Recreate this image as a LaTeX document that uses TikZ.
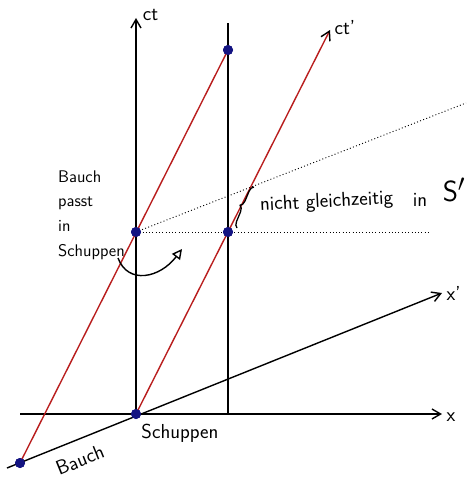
\documentclass[tikz,border=0pt]{standalone}
\usepackage{tikz}
\usetikzlibrary{positioning,arrows.meta,decorations.pathreplacing}
\definecolor{LineRed}{RGB}{185,30,30}
\definecolor{EventBlue}{RGB}{20,20,130}

\begin{document}
\begin{tikzpicture}[
    x=0.03cm, y=-0.03cm,
    every node/.style={font=\sffamily\LARGE},
    axis/.style={line width=1.2pt, -{Straight Barb[length=2.6mm, width=3mm]}},
    worldline/.style={line width=1.2pt, LineRed},
    simul/.style={dotted, line width=0.8pt},
    event/.style={circle, fill=EventBlue, inner sep=0pt, minimum size=3mm},
]
\useasboundingbox (0,0) rectangle (475,479);

\coordinate (xStart) at (20,414);
\coordinate (xEnd) at (442,414);
\coordinate (ctEnd) at (136,18);
\coordinate (wallBottom) at (228,414);
\coordinate (wallTop) at (228,23);
\coordinate (xpStart) at (7,468);
\coordinate (xpEnd) at (442,293);
\coordinate (ctpEnd) at (330,30);
\coordinate (flatEnd) at (428,232);
\coordinate (tiltEnd) at (466,103);

\node[event] (shedFront) at (136,414) {};
\node[event] (barRear) at (20,463) {};
\node[event] (barInside) at (136,232) {};
\node[event] (shedBack) at (228,232) {};
\node[event] (barTop) at (228,50) {};

\draw[axis] (xStart) -- (xEnd) node[right, yshift=-3pt] {x};
\draw[axis] (shedFront.center) -- (ctEnd) node[right, xshift=2pt, yshift=3pt] {ct};
\draw[line width=1.2pt] (wallBottom) -- (wallTop);
\draw[axis] (xpStart) -- (xpEnd) node[right] {x'};
\draw[simul] (barInside.center) -- (flatEnd);
\draw[simul] (barInside.center) -- (tiltEnd);
\draw[worldline] (barRear.center) -- (barTop.center);
\draw[worldline, -{Straight Barb[length=2.6mm, width=3mm, color=black]}] (shedFront.center) -- (ctpEnd)
    node[right, black, yshift=2pt] {ct'};

\node[event] at (shedFront) {};
\node[event] at (barRear) {};
\node[event] at (barInside) {};
\node[event] at (shedBack) {};
\node[event] at (barTop) {};

\node[rotate=22] (barLabel) at (80,460) {Bauch};
\node (shedLabel) at (180,433) {Schuppen};
\node[align=left, anchor=west, font=\sffamily\Large] (fitLabel) at (54,215) {Bauch\\[3pt]passt\\[3pt]in\\[3pt]Schuppen};

\coordinate (hintStart) at (118,258);
\coordinate (hintEnd) at (182,249);
\draw[line width=1.2pt, -{Triangle[open, length=3mm, width=3mm]}] (hintStart)
    .. controls (128,285) and (160,278) .. (hintEnd);

\coordinate (braceLow) at (237,228);
\coordinate (braceHigh) at (254,187);
\draw[line width=1.1pt, decorate, decoration={brace, amplitude=5pt}] (braceLow) -- (braceHigh);
\node[anchor=west, rotate=3] (simulLabel) at (256,206) {nicht gleichzeitig};
\node (inLabel) at (420,200) {in};
\node[font=\sffamily\Huge] (frameLabel) at (454,190) {S$'$};
\end{tikzpicture}
\end{document}
